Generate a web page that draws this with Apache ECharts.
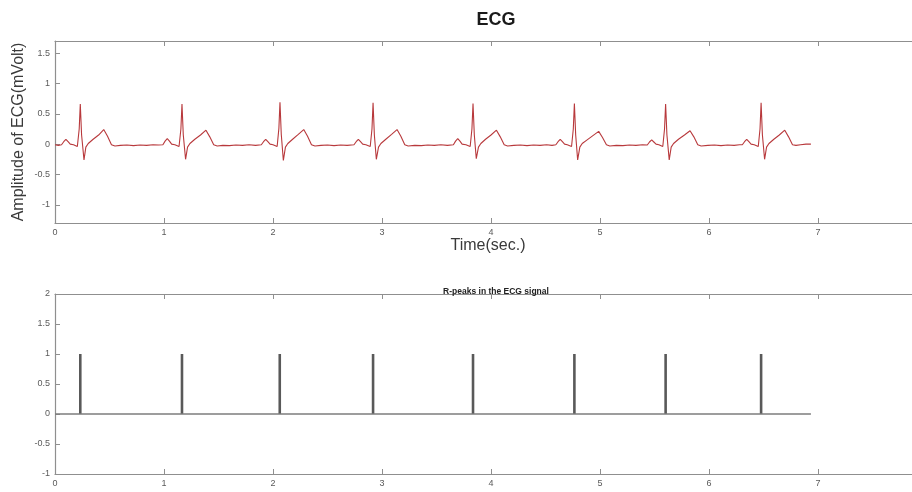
<!DOCTYPE html>
<html>
<head>
<meta charset="utf-8">
<script src="https://cdn.jsdelivr.net/npm/echarts@6/dist/echarts.min.js"></script>
<style>
html,body{margin:0;padding:0;background:#fff;}
#chart{width:912px;height:492px;}
</style>
</head>
<body>
<div id="chart"></div>
<script>
// ---- Data ----
var ecgTime = [
  0.000,0.030,0.060,0.080,0.100,0.120,0.140,0.170,0.205,0.222,0.232,0.244,0.266,0.283,0.305,0.350,0.400,0.447,0.482,0.518,0.550,
  0.600,0.660,0.720,0.780,0.840,0.900,0.950,
  0.990,1.010,1.030,1.050,1.070,1.100,1.138,1.155,1.165,1.177,1.198,1.216,1.238,1.283,1.335,1.385,1.420,1.456,1.488,
  1.540,1.600,1.660,1.720,1.780,1.840,1.893,
  1.913,1.933,1.953,1.973,2.000,2.038,2.054,2.064,2.076,2.095,2.114,2.136,2.180,2.232,2.282,2.317,2.353,2.385,
  2.440,2.500,2.560,2.620,2.680,2.743,
  2.763,2.783,2.803,2.823,2.852,2.892,2.908,2.918,2.930,2.948,2.968,2.990,3.035,3.088,3.138,3.173,3.209,3.240,
  3.300,3.360,3.420,3.480,3.540,3.600,3.655,
  3.675,3.695,3.715,3.735,3.770,3.809,3.825,3.835,3.847,3.865,3.885,3.907,3.950,4.000,4.050,4.085,4.121,4.152,
  4.210,4.270,4.330,4.390,4.450,4.510,4.560,4.595,
  4.615,4.635,4.655,4.675,4.700,4.739,4.755,4.765,4.777,4.795,4.815,4.837,4.882,4.935,4.988,5.023,5.059,5.090,
  5.150,5.210,5.270,5.330,5.390,5.434,
  5.454,5.474,5.494,5.514,5.540,5.576,5.592,5.602,5.614,5.635,5.653,5.675,5.720,5.775,5.826,5.861,5.897,5.928,
  5.990,6.050,6.110,6.170,6.230,6.280,6.306,
  6.326,6.346,6.366,6.386,6.415,6.452,6.468,6.478,6.490,6.510,6.528,6.550,6.595,6.645,6.695,6.730,6.766,6.798,
  6.840,6.890,6.935
];
var ecgAmp = [
  -0.01,-0.02,-0.01,0.04,0.08,0.04,0.00,-0.01,-0.04,0.25,0.66,0.15,-0.26,-0.05,0.01,0.08,0.15,0.24,0.13,-0.01,-0.03,
  -0.02,-0.015,-0.025,-0.015,-0.02,-0.01,-0.015,
  -0.01,0.05,0.09,0.05,0.00,-0.01,-0.04,0.25,0.66,0.15,-0.25,-0.05,0.01,0.08,0.15,0.23,0.12,-0.01,-0.03,
  -0.02,-0.025,-0.015,-0.02,-0.01,-0.02,-0.01,
  0.04,0.08,0.04,0.00,-0.01,-0.04,0.26,0.69,0.16,-0.27,-0.05,0.01,0.08,0.16,0.24,0.13,-0.01,-0.03,
  -0.02,-0.015,-0.025,-0.015,-0.02,-0.01,
  0.04,0.08,0.04,0.00,-0.01,-0.04,0.25,0.68,0.15,-0.25,-0.05,0.01,0.08,0.16,0.24,0.13,-0.01,-0.03,
  -0.02,-0.025,-0.015,-0.02,-0.01,-0.02,-0.01,
  0.05,0.09,0.05,0.00,-0.01,-0.04,0.25,0.67,0.15,-0.24,-0.05,0.01,0.08,0.15,0.23,0.12,-0.01,-0.03,
  -0.02,-0.015,-0.025,-0.015,-0.02,-0.01,-0.02,-0.01,
  0.04,0.08,0.04,0.00,-0.01,-0.04,0.25,0.67,0.15,-0.26,-0.05,0.01,0.07,0.14,0.21,0.11,-0.01,-0.03,
  -0.02,-0.025,-0.015,-0.02,-0.01,-0.015,
  0.035,0.07,0.035,0.00,-0.01,-0.04,0.25,0.66,0.15,-0.26,-0.05,0.01,0.08,0.15,0.22,0.12,-0.01,-0.03,
  -0.02,-0.015,-0.025,-0.015,-0.02,-0.01,-0.01,
  0.04,0.08,0.04,0.00,-0.01,-0.04,0.25,0.68,0.15,-0.25,-0.05,0.01,0.08,0.15,0.23,0.12,-0.01,-0.02,
  -0.01,0.00,0.00
];
var rPeakTimes = [0.232, 1.165, 2.062, 2.918, 3.835, 4.765, 5.602, 6.478];
var rPeakValue = 1;
var signalEnd = 6.935;
var xTicks = [0, 1, 2, 3, 4, 5, 6, 7, 8];
var yTicksTop = [-1, -0.5, 0, 0.5, 1, 1.5];
var yTicksBottom = [-1, -0.5, 0, 0.5, 1, 1.5, 2];

// ---- Build series data ----
var ecgData = ecgTime.map(function (t, i) { return [t, ecgAmp[i]]; });
var peakData = rPeakTimes.map(function (t) { return [t, rPeakValue]; });
var baseData = [[0, 0], [signalEnd, 0]];

var FONT = '"Liberation Sans", Arial, Helvetica, sans-serif';
var frameColor = '#8f8f8f';
var labelColor = '#5a5a5a';

function xAxisPair(gridIndex) {
  return [
    {
      type: 'value', gridIndex: gridIndex, position: 'bottom',
      min: xTicks[0], max: xTicks[xTicks.length - 1], interval: 1,
      axisLine: { show: true, onZero: false, lineStyle: { color: frameColor, width: 1.2 } },
      axisTick: { show: true, inside: true, length: 5, lineStyle: { color: frameColor } },
      axisLabel: { show: true, margin: 5, color: labelColor, fontSize: 9, fontFamily: FONT },
      splitLine: { show: false }
    },
    {
      type: 'value', gridIndex: gridIndex, position: 'top',
      min: xTicks[0], max: xTicks[xTicks.length - 1], interval: 1,
      axisLine: { show: true, onZero: false, lineStyle: { color: frameColor, width: 1.2 } },
      axisTick: { show: true, inside: true, length: 5, lineStyle: { color: frameColor } },
      axisLabel: { show: false },
      splitLine: { show: false }
    }
  ];
}

function yAxisPair(gridIndex, min, max, ticks) {
  var common = {
    type: 'value', gridIndex: gridIndex, min: min, max: max,
    splitLine: { show: false }
  };
  return [
    Object.assign({}, common, {
      position: 'left',
      axisLine: { show: true, onZero: false, lineStyle: { color: frameColor, width: 1.2 } },
      axisTick: { show: true, inside: true, length: 5, customValues: ticks, lineStyle: { color: frameColor } },
      axisLabel: { show: true, margin: 5, customValues: ticks, color: labelColor, fontSize: 9, fontFamily: FONT }
    }),
    Object.assign({}, common, {
      position: 'right',
      axisLine: { show: true, onZero: false, lineStyle: { color: frameColor, width: 1.2 } },
      axisTick: { show: true, inside: true, length: 5, customValues: ticks, lineStyle: { color: frameColor } },
      axisLabel: { show: false }
    })
  ];
}

var chart = echarts.init(document.getElementById('chart'), null, { renderer: 'canvas' });

var option = {
  backgroundColor: '#ffffff',
  animation: false,
  title: [
    { text: 'ECG', left: 491, top: 6, textAlign: 'center',
      textStyle: { fontSize: 18, fontWeight: 'bold', color: '#1a1a1a', fontFamily: FONT } },
    { text: 'R-peaks in the ECG signal', left: 491, top: 282, textAlign: 'center',
      textStyle: { fontSize: 8.5, fontWeight: 'bold', color: '#222', fontFamily: FONT } }
  ],
  graphic: [
    { type: 'text', x: 19, y: 132, rotation: Math.PI / 2,
      style: { text: 'Amplitude of ECG(mVolt)', textAlign: 'center', textVerticalAlign: 'middle',
               font: '16px ' + FONT, fill: '#3a3a3a' } },
    { type: 'text', x: 488, y: 246,
      style: { text: 'Time(sec.)', textAlign: 'center', textVerticalAlign: 'middle',
               font: '16px ' + FONT, fill: '#3a3a3a' } }
  ],
  grid: [
    { left: 55, width: 872, top: 41, height: 182, containLabel: false, outerBoundsMode: 'none' },
    { left: 55, width: 872, top: 294, height: 180, containLabel: false, outerBoundsMode: 'none' }
  ],
  xAxis: xAxisPair(0).concat(xAxisPair(1)),
  yAxis: yAxisPair(0, -1.3, 1.7, yTicksTop).concat(yAxisPair(1, -1, 2, yTicksBottom)),
  series: [
    {
      name: 'ECG', type: 'line', xAxisIndex: 0, yAxisIndex: 0,
      data: ecgData, showSymbol: false, symbol: 'none',
      lineStyle: { color: '#b8393c', width: 1.1 }
    },
    {
      name: 'baseline', type: 'line', xAxisIndex: 2, yAxisIndex: 2,
      data: baseData, showSymbol: false, symbol: 'none',
      lineStyle: { color: '#7d7d7d', width: 1.4 }
    },
    {
      name: 'R-peaks', type: 'bar', xAxisIndex: 2, yAxisIndex: 2,
      data: peakData, barWidth: 2.6,
      itemStyle: { color: '#595959' }
    }
  ]
};
chart.setOption(option);
</script>
</body>
</html>
